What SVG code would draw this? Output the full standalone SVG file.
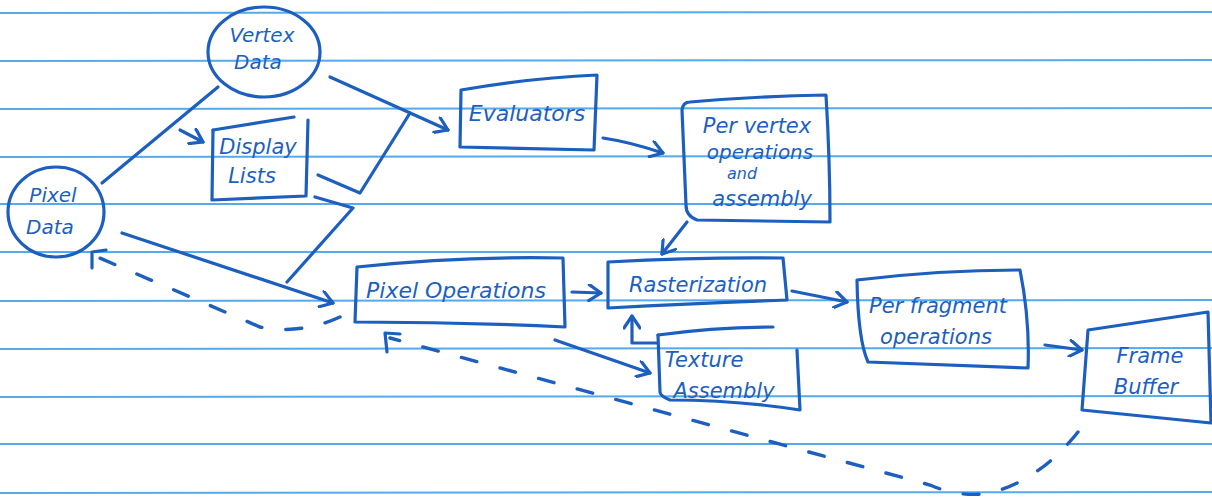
<svg xmlns="http://www.w3.org/2000/svg" width="1212" height="501" viewBox="0 0 1212 501">
<defs>
<style>
.rule{stroke:#55aaee;stroke-width:2;fill:none}
.ink{stroke:#1d5fbf;stroke-width:3.2;fill:none;stroke-linecap:round;stroke-linejoin:round}
.dash{stroke:#1d5fbf;stroke-width:3.4;fill:none;stroke-linecap:round;stroke-dasharray:16 24}
.t{font-family:"DejaVu Sans","Liberation Sans",sans-serif;fill:#1d5fbf;text-anchor:middle;font-style:italic}
</style>
<marker id="ah" viewBox="-14 -9 16 18" refX="0" refY="0" markerWidth="16" markerHeight="18" markerUnits="userSpaceOnUse" orient="auto">
<path d="M-12,-8 L0,0 L-12,8" fill="none" stroke="#1d5fbf" stroke-width="3.2" stroke-linecap="round" stroke-linejoin="round"/>
</marker>
</defs>
<rect width="1212" height="501" fill="#ffffff"/>
<g id="paper">
<line class="rule" x1="0" y1="13" x2="1212" y2="12"/>
<line class="rule" x1="0" y1="61" x2="1212" y2="60"/>
<line class="rule" x1="0" y1="109" x2="1212" y2="108"/>
<line class="rule" x1="0" y1="157" x2="1212" y2="156"/>
<line class="rule" x1="0" y1="204" x2="1212" y2="204"/>
<line class="rule" x1="0" y1="252" x2="1212" y2="252"/>
<line class="rule" x1="0" y1="301" x2="1212" y2="300"/>
<line class="rule" x1="0" y1="349" x2="1212" y2="348"/>
<line class="rule" x1="0" y1="397" x2="1212" y2="396"/>
<line class="rule" x1="0" y1="444" x2="1212" y2="444"/>
<line class="rule" x1="0" y1="493" x2="1212" y2="492"/>
</g>
<g id="connectors">
<path class="ink" d="M218,87 L102,183"/>
<path class="ink" d="M180,130 L203,142" marker-end="url(#ah)"/>
<path class="ink" d="M330,77 L448,130" marker-end="url(#ah)"/>
<path class="ink" d="M318,175 L360,193 L410,113"/>
<path class="ink" d="M315,197 L353,208 L287,282"/>
<path class="ink" d="M122,233 L333,303" marker-end="url(#ah)"/>
<path class="dash" d="M340,317 Q300,335 260,327 L95,256"/>
<path class="ink" d="M92,268 L92,252 L106,250"/>
<path class="dash" d="M1078,432 Q1040,480 990,493 Q960,498 930,485 L390,338"/>
<path class="ink" d="M387,352 L385,333 L400,334"/>
<path class="ink" d="M603,138 Q630,142 663,153" marker-end="url(#ah)"/>
<path class="ink" d="M687,222 L662,254" marker-end="url(#ah)"/>
<path class="ink" d="M572,292 L601,293" marker-end="url(#ah)"/>
<path class="ink" d="M657,343 L632,343 L632,316" marker-end="url(#ah)"/>
<path class="ink" d="M555,340 L650,373" marker-end="url(#ah)"/>
<path class="ink" d="M792,291 L847,302" marker-end="url(#ah)"/>
<path class="ink" d="M1045,345 L1082,350" marker-end="url(#ah)"/>
</g>
<g id="vertex-data">
<ellipse class="ink" cx="264" cy="52" rx="56" ry="45"/>
<text class="t" x="262" y="42" font-size="20">Vertex</text>
<text class="t" x="258" y="69" font-size="20">Data</text>
</g>
<g id="pixel-data">
<ellipse class="ink" cx="56" cy="212" rx="48" ry="45"/>
<text class="t" x="53" y="202" font-size="20">Pixel</text>
<text class="t" x="50" y="234" font-size="20">Data</text>
</g>
<g id="display-lists">
<path class="ink" d="M213,130 L294,117"/>
<path class="ink" d="M308,120 L306,196 L212,200 L213,130"/>
<text class="t" x="258" y="154" font-size="21">Display</text>
<text class="t" x="252" y="183" font-size="21">Lists</text>
</g>
<g id="evaluators">
<path class="ink" d="M461,90 Q530,78 597,75 L594,150 L460,147 Z"/>
<text class="t" x="527" y="121" font-size="22">Evaluators</text>
</g>
<g id="per-vertex">
<path class="ink" d="M690,102 Q760,96 826,95 Q830,160 830,222 L697,220 Q686,216 686,205 L682,110 Q683,102 690,102 Z"/>
<text class="t" x="757" y="133" font-size="21">Per vertex</text>
<text class="t" x="760" y="159" font-size="20">operations</text>
<text class="t" x="742" y="179" font-size="16">and</text>
<text class="t" x="762" y="206" font-size="21">assembly</text>
</g>
<g id="pixel-operations">
<path class="ink" d="M357,267 Q460,256 563,258 L565,327 Q460,322 355,322 Z"/>
<text class="t" x="456" y="298" font-size="22">Pixel Operations</text>
</g>
<g id="rasterization">
<path class="ink" d="M608,262 Q700,257 783,258 L787,300 Q700,303 608,308 Z"/>
<text class="t" x="698" y="292" font-size="21">Rasterization</text>
</g>
<g id="texture-assembly">
<path class="ink" d="M658,335 Q715,327 773,327"/>
<path class="ink" d="M797,350 L800,410 Q735,400 670,400 Q660,396 660,392 L658,335"/>
<text class="t" x="704" y="367" font-size="21">Texture</text>
<text class="t" x="724" y="398" font-size="21">Assembly</text>
</g>
<g id="per-fragment">
<path class="ink" d="M857,280 Q940,270 1020,270 Q1030,320 1028,368 Q945,365 868,362 Q858,340 857,280 Z"/>
<text class="t" x="938" y="313" font-size="21">Per fragment</text>
<text class="t" x="936" y="344" font-size="21">operations</text>
</g>
<g id="frame-buffer">
<path class="ink" d="M1088,330 L1208,312 L1211,423 L1082,410 Z"/>
<text class="t" x="1150" y="363" font-size="21">Frame</text>
<text class="t" x="1146" y="394" font-size="21">Buffer</text>
</g>
</svg>
